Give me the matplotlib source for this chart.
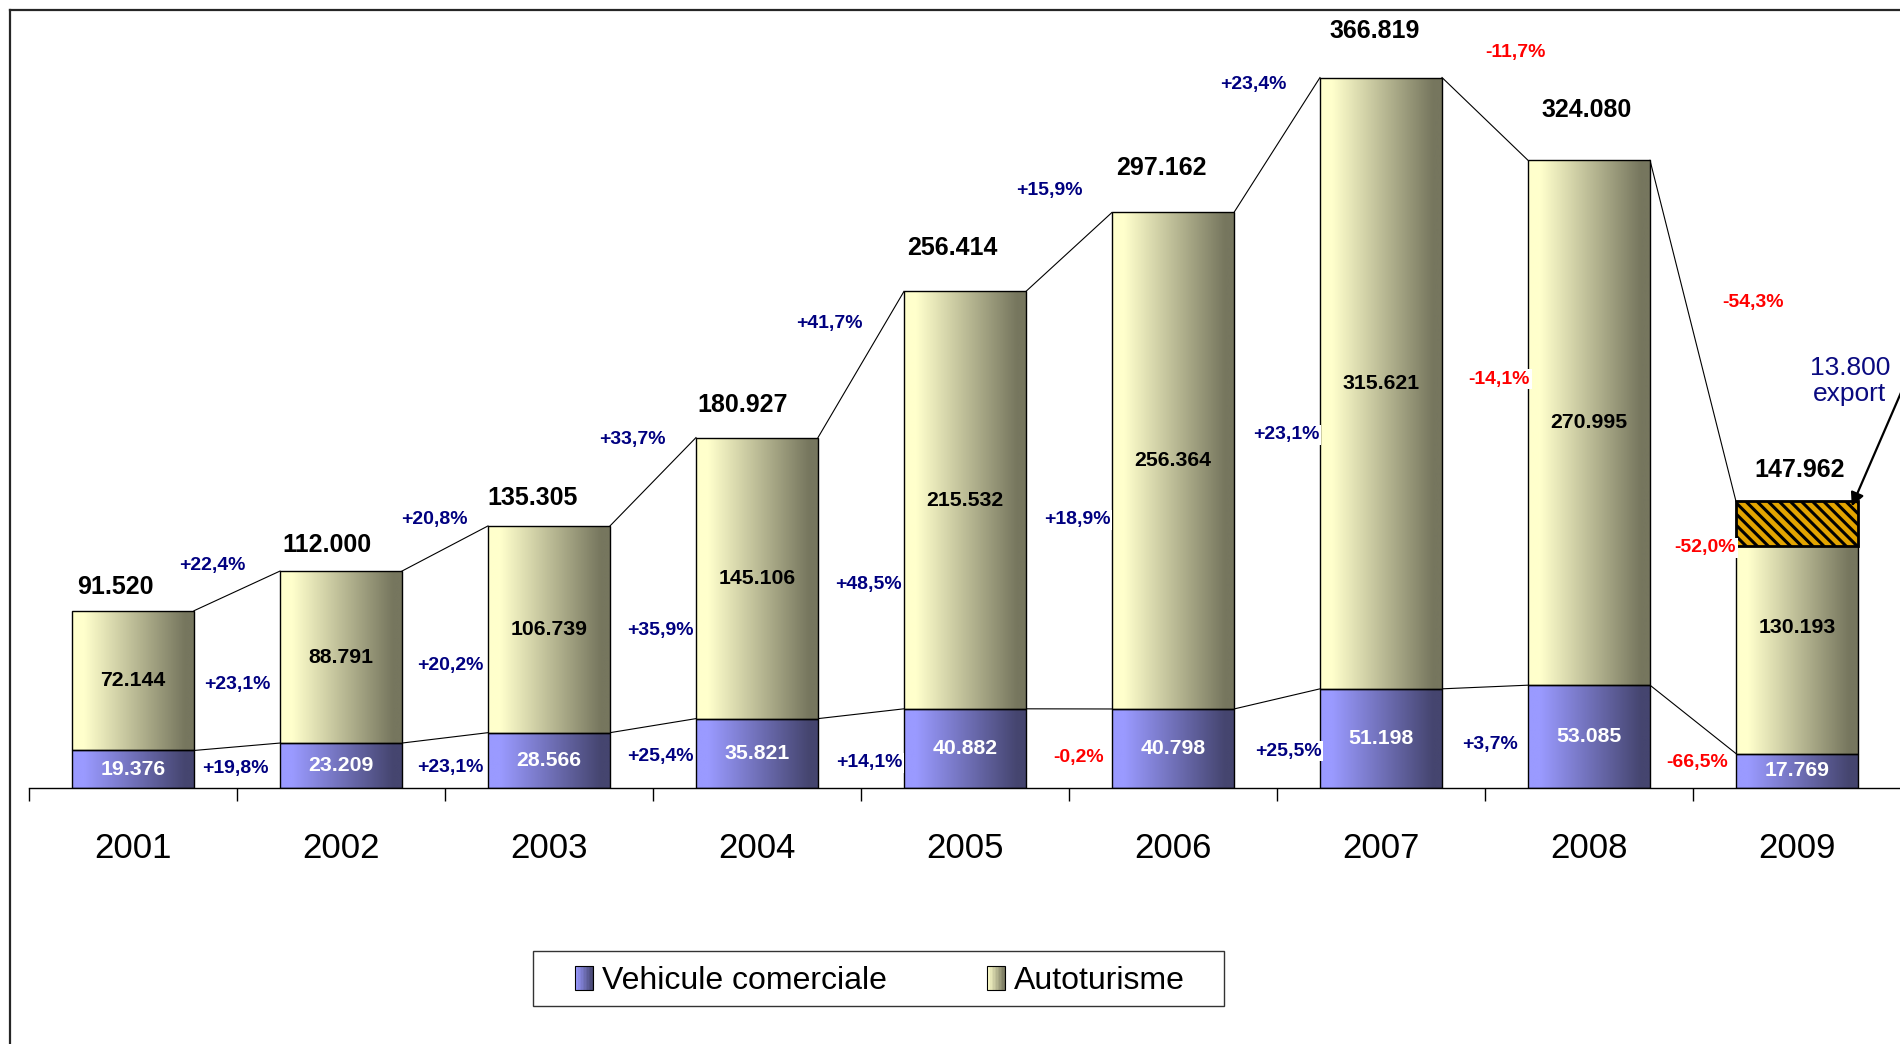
import numpy as np
import matplotlib
matplotlib.use("Agg")
import matplotlib.pyplot as plt
from matplotlib import font_manager as fm
from matplotlib.colors import LinearSegmentedColormap, to_rgb
from matplotlib.patches import Rectangle
from matplotlib.lines import Line2D
from matplotlib.legend_handler import HandlerBase

# ---------------- data ----------------
years = ["2001", "2002", "2003", "2004", "2005", "2006", "2007", "2008", "2009"]
comerciale = [19376, 23209, 28566, 35821, 40882, 40798, 51198, 53085, 17769]
autoturisme = [72144, 88791, 106739, 145106, 215532, 256364, 315621, 270995, 130193]
growth_total = [22.4, 20.8, 33.7, 41.7, 15.9, 23.4, -11.7, -54.3]
growth_auto = [23.1, 20.2, 35.9, 48.5, 18.9, 23.1, -14.1, -52.0]
growth_com = [19.8, 23.1, 25.4, 14.1, -0.2, 25.5, 3.7, -66.5]
export_2009 = 13800
export_band = 23000          # visual height of the hatched export box
series_names = ["Vehicule comerciale", "Autoturisme"]

totals = [c + a for c, a in zip(comerciale, autoturisme)]

# ---------------- layout (label placement) ----------------
total_dx = [-0.087, -0.067, -0.077, -0.067, -0.062, -0.058, -0.029, -0.010, 0.014]
total_dy = [24, 26, 28, 33, 43, 44, 47, 50, 31]           # pixels above bar top
top_pct_pos = [(0.380, 115130), (1.447, 138880), (2.399, 179670), (3.346, 239560),
               (4.404, 308230), (5.385, 362950), (6.644, 379470), (7.788, 250400)]
mid_pct_pos = [(0.500, 53180), (1.524, 63500), (2.534, 81060), (3.534, 104810),
               (4.538, 138370), (5.543, 182250), (6.567, 211160), (7.558, 123910)]
bot_pct_pos = [(0.490, 9810), (1.524, 10330), (2.534, 16010), (3.538, 12910),
               (4.548, 16000), (5.553, 19100), (6.524, 22600), (7.519, 12910)]

# ---------------- fonts ----------------
names = {f.name for f in fm.fontManager.ttflist}
NARROW = "Liberation Sans Narrow" if "Liberation Sans Narrow" in names else None
REG = "Liberation Sans"
FONT = NARROW or REG
k_sz = 1.0 if NARROW else 0.9   # slightly smaller sizes when no narrow face exists

W, H = 1900, 1044
fig = plt.figure(figsize=(W / 100, H / 100), dpi=100)
fig.patch.set_facecolor("white")

ax = fig.add_axes([29 / W, (H - 788) / H, 1872 / W, (788 - 10) / H])
for s in ["left", "right", "top"]:
    ax.spines[s].set_visible(False)
ax.spines["bottom"].set_color("black")
ax.spines["bottom"].set_linewidth(1.0)
ax.set_yticks([])
ax.patch.set_alpha(0)

bw = 122 / 208
x = np.arange(len(years))

purple_l, purple_d = "#9A9AFF", "#45456F"
yellow_l, yellow_d = "#FFFFCC", "#76765E"


def grad_cmap(light, dark):
    return LinearSegmentedColormap.from_list(
        "g", [(0, light), (0.10, light), (0.93, dark), (1, dark)])


cm_p = grad_cmap(purple_l, purple_d)
cm_y = grad_cmap(yellow_l, yellow_d)
grad = np.linspace(0, 1, 256)[None, :]

bars_c = ax.bar(x, comerciale, width=bw, facecolor="none", edgecolor="black",
                linewidth=1.0, zorder=3)
bars_a = ax.bar(x, autoturisme, bottom=comerciale, width=bw, facecolor="none",
                edgecolor="black", linewidth=1.0, zorder=3)
for bars, cmap in [(bars_c, cm_p), (bars_a, cm_y)]:
    for r in bars:
        x0, y0 = r.get_x(), r.get_y()
        im = ax.imshow(grad, cmap=cmap, extent=[x0, x0 + r.get_width(), y0, y0 + r.get_height()],
                       aspect="auto", interpolation="bilinear", zorder=2)
        im.set_clip_path(r)
ax.set_xlim(-0.5, 8.5)
ax.set_ylim(0, 401670)

# hatched export box on 2009
plt.rcParams["hatch.linewidth"] = 2.2
ax.bar(x[-1], export_band, bottom=totals[-1] - export_band, width=bw, facecolor="#E2A400",
       edgecolor="black", hatch="\\\\\\", linewidth=2.0, zorder=4)

# connecting lines
hb = bw / 2
for k in range(len(years) - 1):
    ax.plot([k + hb, k + 1 - hb], [totals[k], totals[k + 1]], color="black", lw=0.8, zorder=1.5)
    ax.plot([k + hb, k + 1 - hb], [comerciale[k], comerciale[k + 1]], color="black", lw=0.8,
            zorder=1.5)

# ticks
ax.set_xticks(x)
ax.set_xticklabels(years, fontsize=27 * k_sz + 0.7, family=FONT)
ax.set_xticks(np.arange(-0.5, 9.0, 1.0), minor=True)
ax.tick_params(axis="x", which="major", length=0, pad=31.5)
ax.tick_params(axis="x", which="minor", length=9, width=1.0, color="black", direction="out")


def fmt_num(v):
    return f"{v:,}".replace(",", ".")


def fmt_pct(v):
    return f"{v:+.1f}%".replace(".", ",")


# value labels inside bars
for k in x:
    ax.text(k, comerciale[k] / 2, fmt_num(comerciale[k]), ha="center", va="center",
            fontsize=17 * k_sz, fontweight="bold", color="white", family=FONT, zorder=6)
    ax.text(k, comerciale[k] + autoturisme[k] / 2, fmt_num(autoturisme[k]), ha="center",
            va="center", fontsize=17 * k_sz, fontweight="bold", color="black", family=FONT,
            zorder=6)
    ax.annotate(fmt_num(totals[k]), xy=(k + total_dx[k], totals[k]), xytext=(0, total_dy[k]),
                textcoords="offset pixels", ha="center", va="center", fontsize=20 * k_sz,
                fontweight="bold", color="black", family=FONT, zorder=7,
                bbox=dict(boxstyle="square,pad=0.25", fc="white", ec="none"))

# growth labels
for vals, pos in [(growth_total, top_pct_pos), (growth_auto, mid_pct_pos), (growth_com, bot_pct_pos)]:
    for v, (px, py) in zip(vals, pos):
        ax.text(px, py, fmt_pct(v), ha="center", va="center", fontsize=15.5 * k_sz,
                fontweight="bold", color="#000080" if v >= 0 else "#FF0000", family=FONT,
                zorder=5, bbox=dict(boxstyle="square,pad=0.1", fc="white", ec="none"))

# export annotation
fig.text(1850 / W, 1 - 381 / H, f"{fmt_num(export_2009)}\nexport", ha="center", va="center",
         fontsize=19, color="#0A0A80", family=REG, linespacing=1.15)
ax.annotate("", xy=(x[-1] + hb - 0.03, totals[-1] - 2500), xycoords="data",
            xytext=(1903, H - 388), textcoords="figure pixels",
            arrowprops=dict(arrowstyle="-|>", color="black", lw=1.6, mutation_scale=20,
                            shrinkA=0, shrinkB=0), zorder=8)

# frame lines of the chart area
fig.add_artist(Line2D([10 / W, 10 / W], [0, 1 - 10 / H], color="#262626", lw=1.6,
                      transform=fig.transFigure))
fig.add_artist(Line2D([10 / W, 1], [1 - 10 / H, 1 - 10 / H], color="#262626", lw=1.6,
                      transform=fig.transFigure, zorder=0))


# legend with gradient swatches
class GradHandler(HandlerBase):
    def __init__(self, light, dark):
        super().__init__()
        self.light, self.dark = np.array(to_rgb(light)), np.array(to_rgb(dark))

    def create_artists(self, legend, orig_handle, xdescent, ydescent, width, height, fontsize,
                       trans):
        arts = []
        n = 12
        for i in range(n):
            t = i / (n - 1)
            c = self.light * (1 - t) + self.dark * t
            arts.append(Rectangle((-xdescent + width * i / n, -ydescent), width / n + 0.3, height,
                                  facecolor=c, edgecolor="none", transform=trans))
        arts.append(Rectangle((-xdescent, -ydescent), width, height, facecolor="none",
                              edgecolor="black", lw=0.8, transform=trans))
        return arts


leg_size = 26.5 * k_sz - 0.8
em = leg_size * 100 / 72
h1 = Rectangle((0, 0), 1, 1)
h2 = Rectangle((0, 0), 1, 1)
leg = fig.legend([h1, h2], series_names, loc="center",
                 bbox_to_anchor=(880 / W, 1 - 981 / H), ncol=2, frameon=False,
                 prop={"family": FONT, "size": leg_size},
                 handlelength=18 / em, handleheight=24 / em,
                 handletextpad=9 / em, columnspacing=100 / em,
                 handler_map={h1: GradHandler(purple_l, purple_d),
                              h2: GradHandler(yellow_l, yellow_d)})
fig.add_artist(Rectangle((533 / W, 1 - 1006 / H), (1224 - 533) / W, (1006 - 951) / H,
                         transform=fig.transFigure, facecolor="none", edgecolor="#333333",
                         lw=1.0))

fig.savefig("out.png", dpi=100, facecolor="white")
